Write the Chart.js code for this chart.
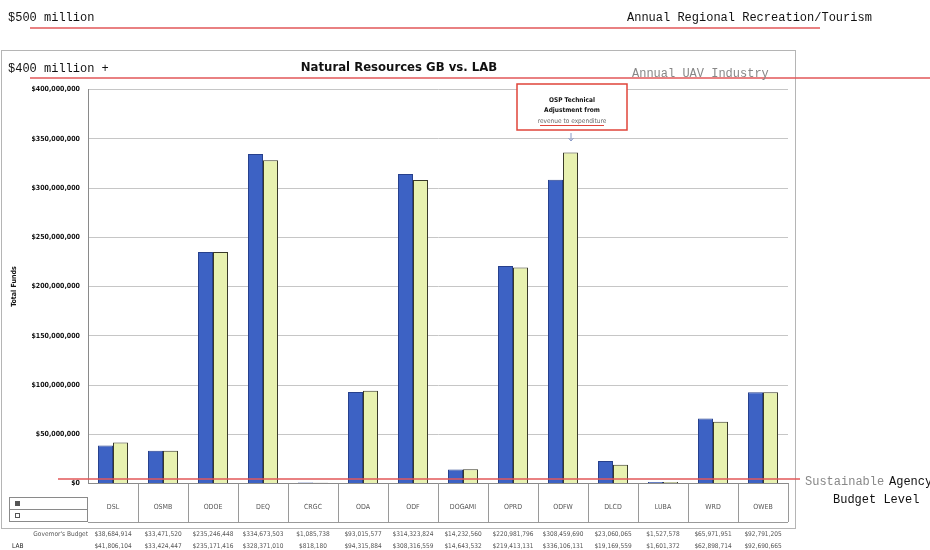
<!DOCTYPE html>
<html lang="en">
<head>
    <meta charset="UTF-8">
    <title>Natural Resources GB vs. LAB</title>
    <script src="https://cdn.jsdelivr.net/npm/chart.js"></script>
    <style>
        body { margin: 0; background: #fff; }
        canvas { display: block; }
    </style>
</head>
<body>
    <canvas id="nrChart" width="930" height="550"></canvas>

    <script>
        // Agences et budgets (GB = Governor's Budget, LAB = Legislatively Adopted Budget)
        const agencies = ['DSL', 'OSMB', 'ODOE', 'DEQ', 'CRGC', 'ODA', 'ODF', 'DOGAMI', 'OPRD', 'ODFW', 'DLCD', 'LUBA', 'WRD', 'OWEB'];
        const governorsBudget = [38684914, 33471520, 235246448, 334673503, 1085738, 93015577, 314323824, 14232560, 220981796, 308459690, 23060065, 1527578, 65971951, 92791205];
        const labBudget = [41806104, 33424447, 235171416, 328371010, 818180, 94315884, 308316559, 14643532, 219413131, 336106131, 19169559, 1601372, 62898714, 92690665];
        const yMax = 400000000;
        const yStep = 50000000;

        // Repères ajoutés par-dessus le graphique
        const benchmarks = [
            { text: '$500 million', y: 28 },
            { text: '$400 million +', y: 78 }
        ];

        const mono = "'Liberation Mono', 'DejaVu Sans Mono', monospace";
        const narrow = "'Liberation Sans Narrow', 'DejaVu Sans Condensed', sans-serif";
        const red = '#e2585a';

        const money = v => '$' + v.toLocaleString('en-US');

        const overlay = {
            id: 'overlay',
            beforeDraw(chart) {
                const c = chart.ctx;
                c.save();
                c.fillStyle = '#fff';
                c.fillRect(0, 0, chart.width, chart.height);
                // cadre du graphique
                c.strokeStyle = '#b5b5b5';
                c.lineWidth = 1;
                c.strokeRect(1.5, 50.5, 794, 478);
                c.restore();
            },
            afterDraw(chart) {
                const c = chart.ctx;
                const x = chart.scales.x;
                const area = chart.chartArea;
                const half = (x.getPixelForValue(1) - x.getPixelForValue(0)) / 2;
                c.save();

                // tableau sous l'axe des x
                c.strokeStyle = '#9a9a9a';
                c.lineWidth = 1;
                const tTop = area.bottom, tBot = 522;
                c.beginPath();
                c.moveTo(area.left, tBot + 0.5);
                c.lineTo(area.right, tBot + 0.5);
                agencies.forEach((_, i) => {
                    const px = Math.round(x.getPixelForValue(i) + half) + 0.5;
                    c.moveTo(px, tTop);
                    c.lineTo(px, tBot);
                });
                c.stroke();

                // boîte de légende à gauche du tableau
                c.strokeStyle = '#8a8a8a';
                c.strokeRect(9.5, 497.5, area.left - 10, 24);
                c.beginPath();
                c.moveTo(10, 509.5);
                c.lineTo(area.left, 509.5);
                c.stroke();
                c.fillStyle = '#555';
                c.fillRect(15, 501, 5, 5);
                c.strokeStyle = '#555';
                c.strokeRect(15.5, 513.5, 4, 4);

                // lignes de valeurs sous le cadre
                c.font = '6.5px ' + narrow;
                c.fillStyle = '#555';
                c.textBaseline = 'middle';
                c.textAlign = 'right';
                c.fillText("Governor's Budget", 88, 534);
                c.textAlign = 'left';
                c.fillStyle = '#222';
                c.fillText('LAB', 12, 546);
                c.fillStyle = '#555';
                c.textAlign = 'center';
                agencies.forEach((_, i) => {
                    const px = x.getPixelForValue(i);
                    c.fillText(money(governorsBudget[i]), px, 534);
                    c.fillText(money(labBudget[i]), px, 546);
                });

                // encadré OSP
                c.fillStyle = '#fff';
                c.fillRect(517, 84, 110, 46);
                c.strokeStyle = '#e0443a';
                c.lineWidth = 1.5;
                c.strokeRect(517, 84, 110, 46);
                c.fillStyle = '#111';
                c.font = 'bold 6.5px ' + narrow;
                c.textAlign = 'center';
                c.fillText('OSP Technical', 572, 100);
                c.fillText('Adjustment from', 572, 110);
                c.font = '6.5px ' + narrow;
                c.fillStyle = '#666';
                c.fillText('revenue to expenditure', 572, 121);
                c.strokeStyle = '#e0443a';
                c.lineWidth = 1;
                c.beginPath();
                c.moveTo(540, 125.5);
                c.lineTo(604, 125.5);
                c.stroke();
                // petite flèche vers ODFW
                const ax = x.getPixelForValue(9) + 8;
                c.strokeStyle = '#8a9ac8';
                c.beginPath();
                c.moveTo(ax, 133);
                c.lineTo(ax, 141);
                c.moveTo(ax - 2.5, 138);
                c.lineTo(ax, 141);
                c.lineTo(ax + 2.5, 138);
                c.stroke();

                // lignes rouges de référence
                c.strokeStyle = red;
                c.lineWidth = 1.5;
                c.beginPath();
                c.moveTo(30, 28);
                c.lineTo(820, 28);
                c.moveTo(30, 78);
                c.lineTo(930, 78);
                c.moveTo(58, 479);
                c.lineTo(800, 479);
                c.stroke();

                // textes en machine à écrire
                c.font = '12px ' + mono;
                c.textAlign = 'left';
                c.textBaseline = 'alphabetic';
                c.fillStyle = '#111';
                c.fillText(benchmarks[0].text, 8, 21);
                c.fillText('Annual Regional Recreation/Tourism', 627, 21);
                c.fillText(benchmarks[1].text, 8, 72);
                c.fillStyle = '#888';
                c.fillText('Annual UAV Industry', 632, 77);
                c.fillText('Sustainable', 805, 485);
                c.fillStyle = '#111';
                c.fillText('Agency', 889, 485);
                c.fillText('Budget Level', 833, 503);

                c.restore();
            }
        };

        const ctx = document.getElementById('nrChart').getContext('2d');
        const chart = new Chart(ctx, {
            type: 'bar',
            data: {
                labels: agencies,
                datasets: [{
                    label: "Governor's Budget",
                    data: governorsBudget,
                    backgroundColor: '#3d62c4',
                    borderColor: '#27408c',
                    borderWidth: 1,
                    categoryPercentage: 0.6,
                    barPercentage: 1.0
                }, {
                    label: 'LAB',
                    data: labBudget,
                    backgroundColor: '#e8f1b0',
                    borderColor: '#3a3a2a',
                    borderWidth: 1,
                    categoryPercentage: 0.6,
                    barPercentage: 1.0
                }]
            },
            options: {
                responsive: false,
                animation: false,
                devicePixelRatio: 1,
                layout: {
                    padding: { top: 60, left: 10, right: 142, bottom: 20 }
                },
                plugins: {
                    legend: { display: false },
                    tooltip: { enabled: false },
                    title: {
                        display: true,
                        text: 'Natural Resources GB vs. LAB',
                        color: '#111',
                        font: { family: narrow, size: 13, weight: 'bold' },
                        padding: { top: 0, bottom: 14 }
                    }
                },
                scales: {
                    x: {
                        grid: { display: false, drawTicks: false },
                        border: { color: '#8a8a8a' },
                        ticks: {
                            color: '#555',
                            font: { family: narrow, size: 7 },
                            padding: 19,
                            maxRotation: 0,
                            autoSkip: false
                        }
                    },
                    y: {
                        min: 0,
                        max: yMax,
                        afterFit(scale) { scale.width = 78; },
                        grid: { color: '#c6c6c6', drawTicks: false },
                        border: { color: '#8a8a8a' },
                        title: {
                            display: true,
                            text: 'Total Funds',
                            color: '#111',
                            font: { family: narrow, size: 7, weight: 'bold' },
                            padding: 0
                        },
                        ticks: {
                            stepSize: yStep,
                            color: '#111',
                            padding: 8,
                            font: { family: narrow, size: 7, weight: 'bold' },
                            callback: v => money(v)
                        }
                    }
                }
            },
            plugins: [overlay]
        });
    </script>
</body>
</html>
